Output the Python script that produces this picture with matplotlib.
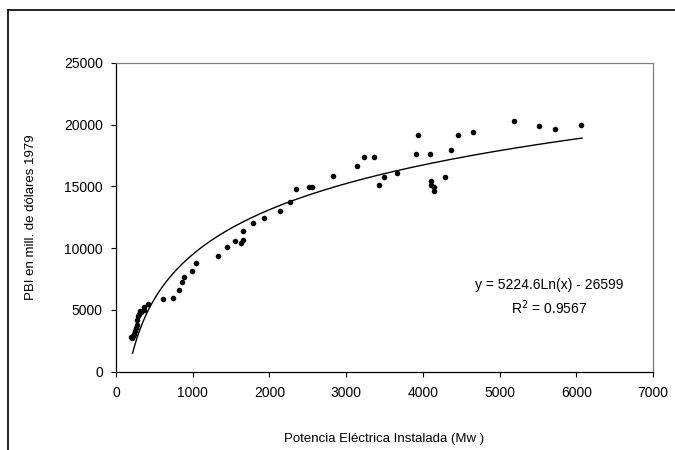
import numpy as np
import matplotlib
matplotlib.use("Agg")
import matplotlib.pyplot as plt
from matplotlib.lines import Line2D

plt.rcParams['font.family'] = ['Liberation Sans', 'DejaVu Sans']

# Data (MW installed, GDP in millions of 1979 dollars)
potencia = [200, 210, 225, 240, 250, 260, 270, 280, 290, 300, 310, 330, 370, 360, 420,
            613, 742, 816, 862, 880, 991, 1043, 1330, 1451, 1555, 1625, 1660, 1655,
            1786, 1925, 2138, 2263, 2351, 2511, 2555, 2824, 3140, 3228, 3363, 3424,
            3489, 3665, 3913, 3932, 4089, 4107, 4107, 4146, 4146, 4285, 4372, 4463,
            4654, 5184, 5515, 5728, 6062]
pbi = [2800, 2750, 2900, 3050, 3300, 3500, 3800, 4200, 4500, 4700, 4900, 4800, 5000, 5200, 5500,
       5880, 5960, 6610, 7260, 7660, 8150, 8800, 9370, 10120, 10580, 10450, 10670, 11410,
       12020, 12425, 13020, 13770, 14775, 14990, 14990, 15880, 16660, 17420, 17420, 15120,
       15775, 16100, 17640, 19180, 17640, 15450, 15100, 14990, 14660, 15775, 17965, 19180,
       19400, 20290, 19855, 19640, 19965]

# Logarithmic trend line coefficients (as shown in the chart)
coef_a = 5224.6
coef_b = -26599
r2 = 0.9567
trend_xmin, trend_xmax = 216, 6075

xticks = [0, 1000, 2000, 3000, 4000, 5000, 6000, 7000]
yticks = [0, 5000, 10000, 15000, 20000, 25000]

fig = plt.figure(figsize=(6.75, 4.5), dpi=100)
ax = fig.add_axes([116/675, 1 - 371.5/450, (653-116)/675, (371.5-63)/450])

ax.scatter(potencia, pbi, s=16, color='black', zorder=3, linewidths=0)
xt = np.linspace(trend_xmin, trend_xmax, 300)
ax.plot(xt, coef_a*np.log(xt) + coef_b, color='black', lw=1.0, zorder=2)

ax.set_xlim(0, 7000)
ax.set_ylim(0, 25000)
ax.set_xticks(xticks)
ax.set_yticks(yticks)
ax.set_xticklabels([str(v) for v in xticks])
ax.set_yticklabels([str(v) for v in yticks])
ax.tick_params(axis='both', direction='out', length=3.5, width=0.8, labelsize=10, colors='black')
ax.tick_params(axis='x', pad=7)
ax.tick_params(axis='y', pad=6)

for s in ['left', 'bottom']:
    ax.spines[s].set_color('black')
    ax.spines[s].set_linewidth(0.9)
for s in ['top', 'right']:
    ax.spines[s].set_color('#808080')
    ax.spines[s].set_linewidth(0.9)

ax.set_xlabel('Potencia Eléctrica Instalada (Mw )', fontsize=9.5)
ax.set_ylabel('PBI en mill. de dólares 1979', fontsize=9.5)
ax.xaxis.set_label_coords(0.5, -0.2)
ax.yaxis.set_label_coords(-0.148, 0.5)

ax.text(5650, 7015, f'y = {coef_a}Ln(x) - {abs(coef_b)}', fontsize=10, ha='center', va='center')
ax.text(5650, 5150, f'R$^2$ = {r2}', fontsize=10, ha='center', va='center')

# outer chart frame (partly clipped)
fx = 8/675
fy = 1 - 10/450
fig.add_artist(Line2D([fx, fx], [0, fy], transform=fig.transFigure, color='black', lw=1.2))
fig.add_artist(Line2D([fx, 1], [fy, fy], transform=fig.transFigure, color='black', lw=1.2))

fig.savefig('out.png', dpi=100)
